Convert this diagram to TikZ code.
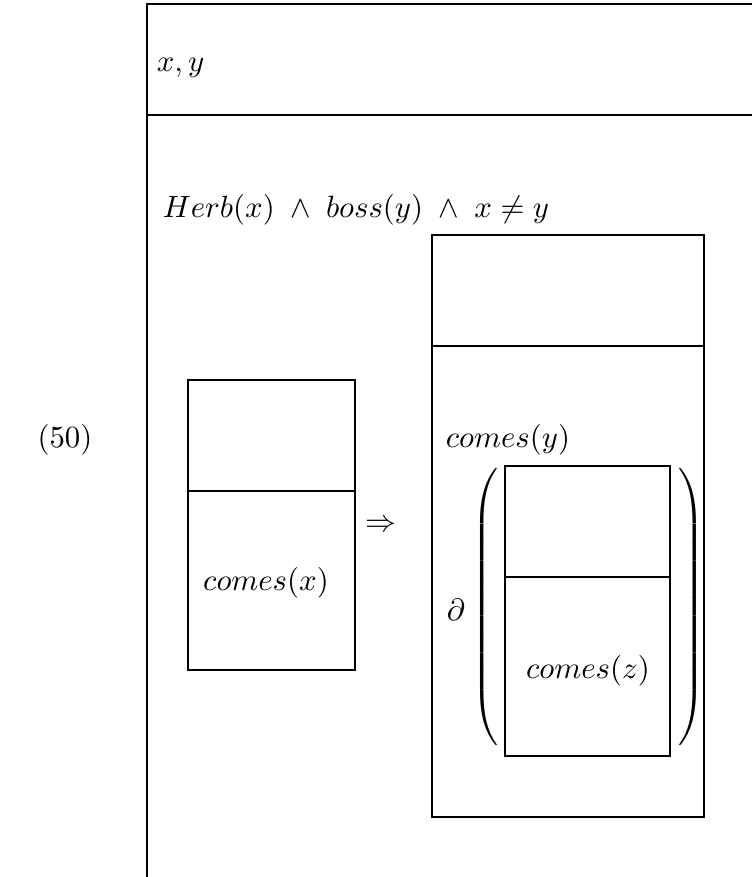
\documentclass[tikz,border=0pt]{standalone}
\usepackage{amsfonts, amssymb, amsmath}
\usepackage{tikz}

\begin{document}
\begin{tikzpicture}[x=0.325pt, y=-0.325pt]
  \useasboundingbox (0,0) rectangle (752,877);
  % outer box, cut off on the right and below
  \draw (752,4) -- (147,4) -- (147,877);
  \draw (147,115) -- (752,115);
  \node (num) at (65,440) {$(50)$};
  \node[anchor=west] (univ) at (146,68) {$x, y$};
  \node[anchor=west] (cond) at (152,210) {$Herb(x) \;\wedge\; boss(y) \;\wedge\; x \neq y$};
  % antecedent box
  \draw (188,380) rectangle (355,670);
  \draw (188,491) -- (355,491);
  \node (cx) at (266,583) {$comes(x)$};
  \node (imp) at (381,526) {$\Rightarrow$};
  % consequent box
  \draw (432,235) rectangle (704,817);
  \draw (432,346) -- (704,346);
  \node[anchor=west] (cy) at (435,440) {$comes(y)$};
  \node (del) at (456,610) {$\partial$};
  \node[inner sep=0pt] (lpar) at (487,611) {$\left(\vrule height 45pt depth 45pt width 0pt\right.$};
  \node[inner sep=0pt] (rpar) at (690,611) {$\left.\vrule height 45pt depth 45pt width 0pt\right)$};
  % box inside the brackets
  \draw (505,466) rectangle (670,756);
  \draw (505,577) -- (670,577);
  \node (cz) at (588,671) {$comes(z)$};
\end{tikzpicture}
\end{document}
